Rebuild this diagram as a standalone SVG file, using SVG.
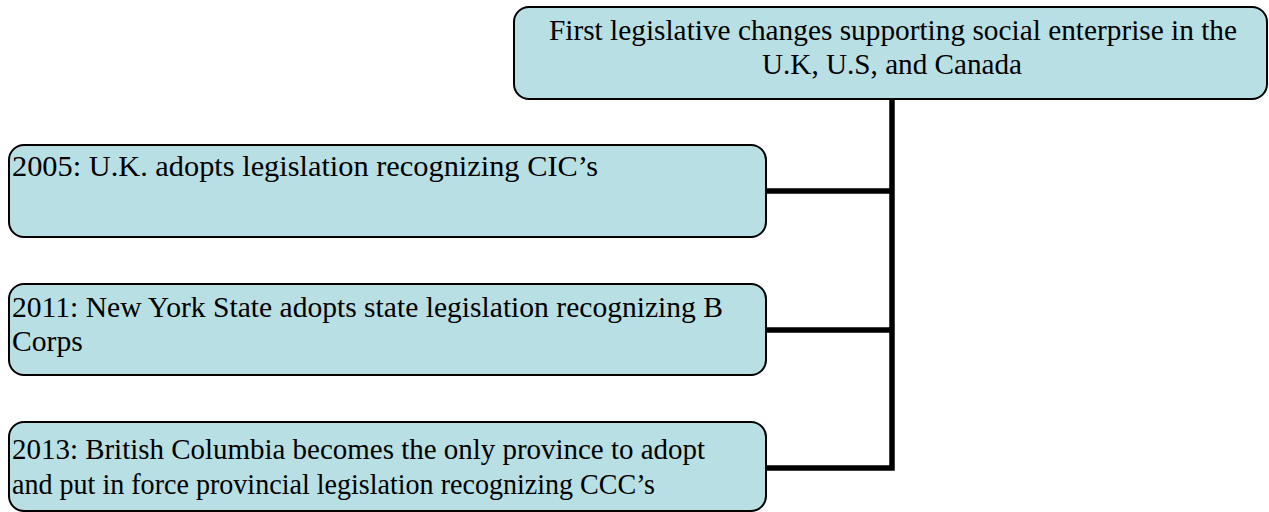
<svg xmlns="http://www.w3.org/2000/svg" width="1269" height="512" viewBox="0 0 1269 512">
<style>
.box{fill:#b8dfe3;stroke:#000;stroke-width:2}
.t{font-family:"Liberation Serif","Times New Roman",serif;font-size:29.6px;fill:#000}
.c{fill:none;stroke:#000;stroke-width:5.5}
</style>
<rect width="1269" height="512" fill="#fff"/>
<g id="connectors">
<polyline class="c" points="892,99 892,468 766,468"/>
<line class="c" x1="766" y1="191" x2="892" y2="191"/>
<line class="c" x1="766" y1="330" x2="892" y2="330"/>
</g>
<g id="top">
<rect class="box" x="514" y="7" width="753" height="92" rx="15"/>
<text class="t" x="893" y="40" text-anchor="middle" textLength="688" lengthAdjust="spacingAndGlyphs">First legislative changes supporting social enterprise in the</text>
<text class="t" x="892" y="74" text-anchor="middle" textLength="260" lengthAdjust="spacingAndGlyphs">U.K, U.S, and Canada</text>
</g>
<g id="n2005">
<rect class="box" x="9" y="145" width="757" height="92" rx="15"/>
<text class="t" x="12" y="176" textLength="586" lengthAdjust="spacingAndGlyphs">2005: U.K. adopts legislation recognizing CIC’s</text>
</g>
<g id="n2011">
<rect class="box" x="9" y="284" width="757" height="91" rx="15"/>
<text class="t" x="12" y="317" textLength="711" lengthAdjust="spacingAndGlyphs">2011: New York State adopts state legislation recognizing B</text>
<text class="t" x="12" y="351">Corps</text>
</g>
<g id="n2013">
<rect class="box" x="9" y="422" width="757" height="89" rx="15"/>
<text class="t" x="12" y="459" textLength="693" lengthAdjust="spacingAndGlyphs">2013: British Columbia becomes the only province to adopt</text>
<text class="t" x="12" y="494" textLength="643" lengthAdjust="spacingAndGlyphs">and put in force provincial legislation recognizing CCC’s</text>
</g>
</svg>
